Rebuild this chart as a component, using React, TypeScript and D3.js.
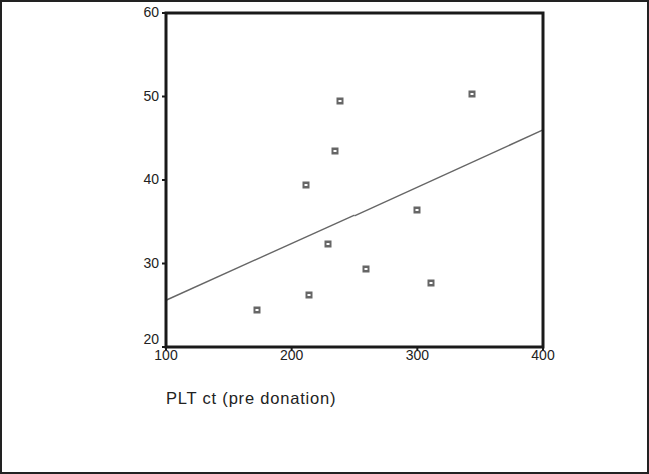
import React from 'react'
import * as d3 from 'd3'

// PLT ct (pre donation) vs. y value
const pltCt = [172.4, 213.8, 228.9, 211.4, 234.5, 238.5, 299.7, 310.9, 343.5, 258.9]
const yValues = [24.4, 26.2, 32.3, 39.4, 43.5, 49.5, 36.4, 27.7, 50.3, 29.4]

// fitted line, drawn in two pieces that meet near the middle
const fitLeft = [[100, 25.6], [250, 35.8]]
const fitRight = [[250, 35.7], [400, 46.0]]

const xTicks = [100, 200, 300, 400]
const yTicks = [20, 30, 40, 50, 60]
const xTitle = 'PLT ct (pre donation)'

export default function App() {
  const width = 649
  const height = 474
  const left = 166
  const right = 543
  const top = 13
  const bottom = 347

  const x = d3.scaleLinear().domain([100, 400]).range([left, right])
  const y = d3.scaleLinear().domain([20, 60]).range([bottom, top])

  const line = d3
    .line()
    .x(d => x(d[0]))
    .y(d => y(d[1]))

  const font = "'Liberation Sans', Arial, sans-serif"

  return (
    <svg
      width={width}
      height={height}
      style={{ position: 'absolute', left: 0, top: 0, display: 'block', background: '#fff' }}
    >
      {/* outer frame */}
      <rect x={1} y={1} width={width - 2} height={height - 2} fill="none" stroke="#222" strokeWidth={2} />

      {/* fit line */}
      <path d={line(fitLeft)} fill="none" stroke="#666" strokeWidth={1.4} />
      <path d={line(fitRight)} fill="none" stroke="#666" strokeWidth={1.4} />

      {/* points: grey square with a small white centre */}
      {pltCt.map((v, i) => {
        const cx = Math.round(x(v))
        const cy = Math.round(y(yValues[i]))
        return (
          <g key={i}>
            <rect x={cx - 3.5} y={cy - 3.5} width={7} height={7} fill="#666" />
            <rect x={cx - 1.5} y={cy - 1} width={3} height={2} fill="#fff" />
          </g>
        )
      })}

      {/* plot frame */}
      <rect x={left} y={top} width={right - left} height={bottom - top} fill="none" stroke="#1a1a1a" strokeWidth={3} />

      {/* y ticks */}
      {yTicks.map(t => (
        <g key={t}>
          <line x1={left - 4} x2={left} y1={y(t)} y2={y(t)} stroke="#1a1a1a" strokeWidth={2} />
          <text
            x={left - 7}
            y={y(t) - (t === 20 ? 8 : 1)}
            textAnchor="end"
            dominantBaseline="central"
            fontFamily={font}
            fontSize={14}
            fill="#222"
          >
            {t}
          </text>
        </g>
      ))}

      {/* x ticks */}
      {xTicks.map(t => (
        <g key={t}>
          <line x1={x(t)} x2={x(t)} y1={bottom} y2={bottom + 3} stroke="#1a1a1a" strokeWidth={2} />
          <text
            x={x(t)}
            y={bottom + 13}
            textAnchor="middle"
            fontFamily={font}
            fontSize={14}
            fill="#222"
          >
            {t}
          </text>
        </g>
      ))}

      {/* x axis title */}
      <text x={left} y={404} fontFamily={font} fontSize={16.5} letterSpacing={0.8} fill="#222">
        {xTitle}
      </text>
    </svg>
  )
}
